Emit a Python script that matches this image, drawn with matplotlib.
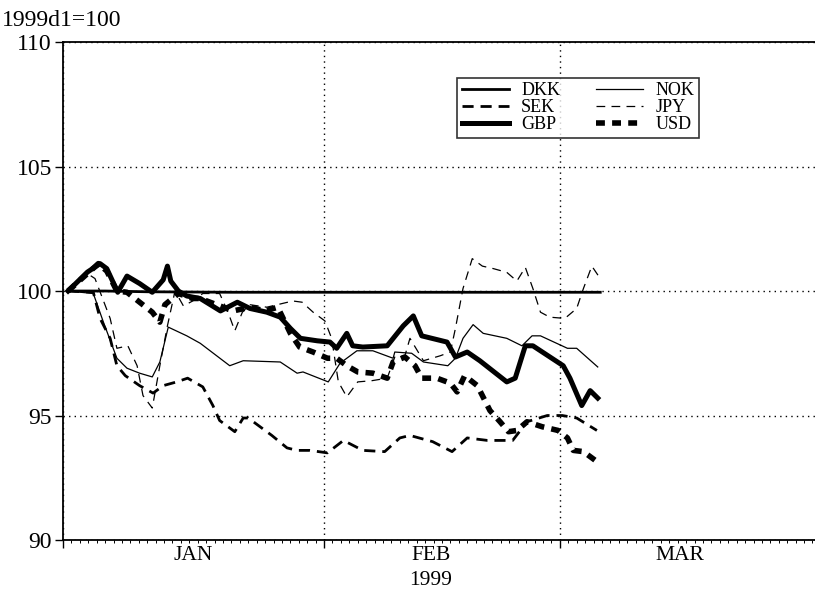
import matplotlib
matplotlib.use('Agg')
import matplotlib.pyplot as plt
from matplotlib.ticker import FixedLocator, NullFormatter

plt.rcParams['font.family'] = ['Liberation Serif', 'DejaVu Serif']

# jours depuis le 1er janvier 1999, indices (1999d1 = 100)
dkk_x = [0.6, 5.0, 10.0, 20.0, 30.0, 40.0, 50.0, 63.8]
dkk_y = [100.0, 100.0, 99.97, 99.95, 99.95, 99.95, 99.95, 99.95]

gbp_x = [0.6, 2.9, 4.4, 5.2, 6.5, 7.6, 9.1, 10.6, 11.9, 12.4, 12.8, 13.7, 14.7, 16.3, 18.7,
         20.7, 22.2, 24.2, 25.8, 27.0, 28.2, 30.2, 31.7, 32.5, 33.7, 34.4, 35.6, 38.5, 40.4,
         41.6, 42.6, 45.6, 46.6, 48.0, 49.5, 52.7, 53.7, 54.9, 55.8, 59.4, 60.2, 61.6, 62.6, 63.5]
gbp_y = [100.0, 100.76, 101.1, 100.9, 99.95, 100.6, 100.3, 99.95, 100.45, 101.0, 100.4, 100.0,
         99.8, 99.7, 99.2, 99.55, 99.3, 99.15, 98.95, 98.5, 98.1, 98.0, 97.95, 97.7, 98.3, 97.8,
         97.75, 97.8, 98.6, 99.0, 98.2, 97.95, 97.35, 97.55, 97.2, 96.35, 96.5, 97.8, 97.8, 97.0,
         96.5, 95.4, 96.0, 95.7]

nok_x = [0.6, 3.6, 4.8, 6.4, 7.6, 9.1, 10.6, 11.5, 12.5, 14.7, 16.3, 19.8, 21.4, 25.8, 27.8,
         28.5, 31.5, 32.9, 34.9, 36.8, 39.2, 39.4, 41.4, 42.8, 45.7, 46.6, 47.5, 48.7, 49.9,
         52.7, 54.5, 55.7, 56.7, 59.9, 61.0, 63.5]
nok_y = [100.0, 99.9, 98.75, 97.3, 96.9, 96.7, 96.55, 97.15, 98.55, 98.2, 97.9, 97.0, 97.2,
         97.15, 96.7, 96.75, 96.35, 97.1, 97.6, 97.6, 97.3, 97.55, 97.5, 97.15, 97.0, 97.3,
         98.1, 98.65, 98.3, 98.1, 97.8, 98.2, 98.2, 97.7, 97.7, 96.95]

sek_x = [0.6, 3.6, 4.4, 5.6, 6.4, 7.4, 9.1, 10.7, 11.9, 13.5, 14.8, 16.6, 17.8, 18.6, 20.4,
         21.4, 22.0, 24.8, 26.6, 27.8, 29.3, 31.4, 33.3, 35.6, 38.2, 40.0, 41.2, 43.9, 46.2,
         48.0, 50.4, 53.4, 55.1, 57.5, 59.3, 61.0, 63.4]
sek_y = [100.0, 99.95, 98.9, 98.1, 97.0, 96.6, 96.2, 95.9, 96.2, 96.35, 96.5, 96.15, 95.4,
         94.8, 94.35, 94.9, 94.9, 94.2, 93.7, 93.6, 93.6, 93.5, 94.0, 93.6, 93.55, 94.1, 94.2,
         93.95, 93.55, 94.1, 94.0, 94.0, 94.75, 95.0, 95.0, 94.9, 94.4]

jpy_x = [0.6, 2.9, 3.8, 5.6, 6.4, 7.7, 8.8, 9.5, 10.6, 11.5, 12.4, 13.3, 14.3, 15.4, 16.6,
         18.6, 19.6, 20.4, 21.3, 22.2, 24.2, 27.3, 28.4, 29.7, 31.1, 31.9, 32.7, 33.7, 35.0,
         36.7, 38.5, 39.4, 40.6, 41.2, 42.8, 44.8, 46.0, 46.6, 47.5, 48.6, 49.8, 51.1, 52.7,
         53.9, 54.9, 55.8, 56.7, 57.8, 59.6, 61.0, 61.8, 62.8, 63.8]
jpy_y = [100.0, 100.7, 100.5, 98.9, 97.7, 97.8, 97.0, 95.8, 95.3, 97.0, 98.6, 100.0, 99.4,
         99.6, 99.9, 99.9, 99.15, 98.4, 99.15, 99.45, 99.35, 99.6, 99.55, 99.15, 98.8, 98.1,
         96.35, 95.75, 96.35, 96.4, 96.5, 97.35, 97.4, 98.1, 97.2, 97.4, 97.55, 98.5, 100.1,
         101.3, 101.0, 100.9, 100.75, 100.4, 100.95, 100.1, 99.15, 98.95, 98.9, 99.3, 100.1,
         101.0, 100.5]

usd_x = [0.6, 2.9, 4.2, 5.2, 6.4, 7.6, 9.1, 10.6, 11.5, 12.1, 13.7, 15.4, 16.3, 20.2, 22.2,
         24.0, 25.5, 27.0, 28.1, 29.7, 31.4, 32.5, 33.7, 35.0, 36.8, 38.5, 39.2, 40.6, 41.8,
         42.6, 44.4, 46.0, 46.8, 47.7, 49.2, 50.4, 50.7, 51.9, 52.9, 53.9, 55.1, 56.9, 58.8,
         59.9, 60.6, 61.8, 63.4]
usd_y = [100.0, 100.7, 101.1, 100.8, 100.0, 99.95, 99.55, 99.15, 98.75, 99.45, 99.9, 99.7,
         99.7, 99.2, 99.35, 99.2, 99.35, 98.3, 97.75, 97.55, 97.3, 97.3, 97.0, 96.75, 96.7,
         96.5, 97.15, 97.35, 97.0, 96.5, 96.5, 96.3, 95.95, 96.6, 96.2, 95.4, 95.2, 94.75,
         94.35, 94.4, 94.75, 94.55, 94.4, 94.1, 93.6, 93.55, 93.15]

month_starts = [0, 31, 59, 90]
month_names = ['JAN', 'FEB', 'MAR']
month_mid = [15.5, 43.7, 73.3]

fig = plt.figure(figsize=(8.15, 5.9), dpi=100)
ax = fig.add_axes([0.0773, 0.0847, 0.9227, 0.8441])

h_dkk, = ax.plot(dkk_x, dkk_y, color='black', lw=2.0, label='DKK')
h_sek, = ax.plot(sek_x, sek_y, color='black', lw=2.0, dashes=(4, 2.5), label='SEK')
h_gbp, = ax.plot(gbp_x, gbp_y, color='black', lw=3.6, label='GBP')
h_nok, = ax.plot(nok_x, nok_y, color='black', lw=0.9, label='NOK')
h_jpy, = ax.plot(jpy_x, jpy_y, color='black', lw=0.9, dashes=(7, 5), label='JPY')
h_usd, = ax.plot(usd_x, usd_y, color='black', lw=4.0, dashes=(1.6, 1.3), label='USD')

ax.set_xlim(0, 89.3)
ax.set_ylim(90, 110)

ax.xaxis.set_major_locator(FixedLocator(month_starts))
ax.xaxis.set_minor_locator(FixedLocator(range(0, 90)))
ax.xaxis.set_major_formatter(NullFormatter())
ax.tick_params(axis='x', which='major', length=6, width=1, direction='out')
ax.tick_params(axis='x', which='minor', length=2.5, width=0.7, direction='out')

ax.set_yticks([90, 95, 100, 105, 110])
ax.tick_params(axis='y', which='major', length=6, width=1, direction='out', labelsize=17, pad=2)

ax.grid(True, which='major', linestyle=(0, (1, 3)), color='black', lw=1.0)

for sp in ['left', 'bottom', 'top']:
    ax.spines[sp].set_linewidth(1.3)
ax.spines['right'].set_visible(False)

for xm, name in zip(month_mid, month_names):
    ax.text(xm, -0.012, name, transform=ax.get_xaxis_transform(), ha='center', va='top', fontsize=15.5)
fig.text((63 + month_mid[1] * 8.42) / 815, 0.0, '1999', ha='center', va='bottom', fontsize=15.5)

fig.text(0.002, 0.966, '1999d1=100', ha='left', va='center', fontsize=17)

leg = ax.legend(handles=[h_dkk, h_sek, h_gbp, h_nok, h_jpy, h_usd], ncol=2,
                loc='upper left', bbox_to_anchor=(0.524, 0.928), borderaxespad=0,
                fontsize=13, frameon=True, fancybox=False, edgecolor='black',
                handlelength=2.6, handletextpad=0.7, columnspacing=2.0,
                labelspacing=0.0, borderpad=0.25)
leg.get_frame().set_linewidth(1.2)

plt.savefig('out.png', dpi=100)
plt.close()
